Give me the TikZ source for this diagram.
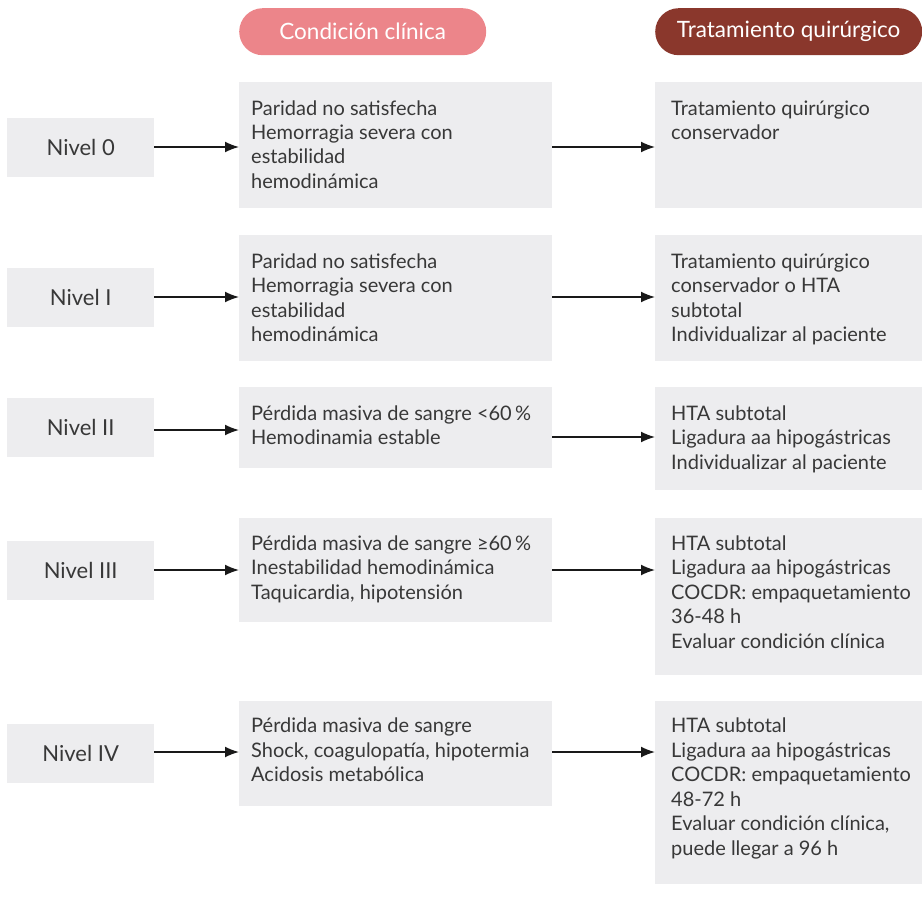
\documentclass[tikz,border=0pt]{standalone}
\usepackage{fontspec}
\setmainfont{Lato}
\newfontfamily\symfont{DejaVu Sans}
\usetikzlibrary{arrows.meta}
\definecolor{pinkhead}{HTML}{EC858A}
\definecolor{redhead}{HTML}{8A372C}
\definecolor{boxgray}{HTML}{EDEDEF}
\definecolor{txtgray}{HTML}{383838}
\newcommand{\mygeq}{\iffontchar\font"2265 ≥\else{\symfont ≥}\fi}
\newcommand{\lines}[1]{\begin{tabular}[t]{@{}l@{}}#1\end{tabular}}
\tikzset{
  pill/.style={rounded corners=23.5pt, inner sep=0pt, anchor=north west, minimum height=47pt, text=white, font=\fontsize{22.5}{26}\selectfont},
  gbox/.style={fill=boxgray, draw=none, inner sep=0pt, anchor=north west},
  niv/.style={gbox, minimum width=147pt, minimum height=58.5pt, text=txtgray, font=\fontsize{22}{26}\selectfont},
  body/.style={inner sep=0pt, anchor=base west, text=txtgray, font=\fontsize{20}{24.5}\selectfont},
  arr/.style={draw=black!90, line width=1.6pt, -{Latex[length=14pt,width=11pt]}}
}
\begin{document}
\begin{tikzpicture}[x=1pt,y=-1pt]
\useasboundingbox (0,0) rectangle (922,899);
% headers
\node[pill, fill=pinkhead, minimum width=247pt] (h1) at (239,8) {Condición clínica};
\node[pill, fill=redhead, minimum width=267pt] (h2) at (655,8) {Tratamiento quirúrgico};
% row 0
\node[niv] (n0) at (7,118) {Nivel 0};
\node[gbox, minimum width=313pt, minimum height=126pt] (m0) at (239,82) {};
\node[gbox, minimum width=267pt, minimum height=126pt] (r0) at (655,82) {};
\node[body] (tm0) at (251,115) {\lines{Paridad no satisfecha\\Hemorragia severa con\\estabilidad\\hemodinámica}};
\node[body] (tr0) at (671,115) {\lines{Tratamiento quirúrgico\\conservador}};
% row I
\node[niv] (n1) at (7,268) {Nivel I};
\node[gbox, minimum width=313pt, minimum height=126pt] (m1) at (239,235) {};
\node[gbox, minimum width=267pt, minimum height=126pt] (r1) at (655,235) {};
\node[body] (tm1) at (251,268) {\lines{Paridad no satisfecha\\Hemorragia severa con\\estabilidad\\hemodinámica}};
\node[body] (tr1) at (671,268) {\lines{Tratamiento quirúrgico\\conservador o HTA\\subtotal\\Individualizar al paciente}};
% row II
\node[niv] (n2) at (7,398) {Nivel II};
\node[gbox, minimum width=313pt, minimum height=81pt] (m2) at (239,387) {};
\node[gbox, minimum width=267pt, minimum height=103pt] (r2) at (655,387) {};
\node[body] (tm2) at (251,420) {\lines{Pérdida masiva de sangre <60\,\%\\Hemodinamia estable}};
\node[body] (tr2) at (671,420) {\lines{HTA subtotal\\Ligadura aa hipogástricas\\Individualizar al paciente}};
% row III
\node[niv] (n3) at (7,541) {Nivel III};
\node[gbox, minimum width=313pt, minimum height=104pt] (m3) at (239,518) {};
\node[gbox, minimum width=267pt, minimum height=157pt] (r3) at (655,518) {};
\node[body] (tm3) at (251,550) {\lines{Pérdida masiva de sangre \mygeq60\,\%\\Inestabilidad hemodinámica\\Taquicardia, hipotensión}};
\node[body] (tr3) at (671,550) {\lines{HTA subtotal\\Ligadura aa hipogástricas\\COCDR: empaquetamiento\\36-48 h\\Evaluar condición clínica}};
% row IV
\node[niv] (n4) at (7,724) {Nivel IV};
\node[gbox, minimum width=313pt, minimum height=105pt] (m4) at (239,701) {};
\node[gbox, minimum width=267pt, minimum height=183pt] (r4) at (655,701) {};
\node[body] (tm4) at (251,732.5) {\lines{Pérdida masiva de sangre\\Shock, coagulopatía, hipotermia\\Acidosis metabólica}};
\node[body] (tr4) at (671,732.5) {\lines{HTA subtotal\\Ligadura aa hipogástricas\\COCDR: empaquetamiento\\48-72 h\\Evaluar condición clínica,\\puede llegar a 96 h}};
% arrow levels
\coordinate (y0) at (0,147);
\coordinate (y1) at (0,297);
\coordinate (y2a) at (0,430);
\coordinate (y2b) at (0,437);
\coordinate (y3) at (0,570);
\coordinate (y4) at (0,752);
\draw[arr] (n0.east |- y0) -- (m0.west |- y0);
\draw[arr] (m0.east |- y0) -- (r0.west |- y0);
\draw[arr] (n1.east |- y1) -- (m1.west |- y1);
\draw[arr] (m1.east |- y1) -- (r1.west |- y1);
\draw[arr] (n2.east |- y2a) -- (m2.west |- y2a);
\draw[arr] (m2.east |- y2b) -- (r2.west |- y2b);
\draw[arr] (n3.east |- y3) -- (m3.west |- y3);
\draw[arr] (m3.east |- y3) -- (r3.west |- y3);
\draw[arr] (n4.east |- y4) -- (m4.west |- y4);
\draw[arr] (m4.east |- y4) -- (r4.west |- y4);
\end{tikzpicture}
\end{document}
